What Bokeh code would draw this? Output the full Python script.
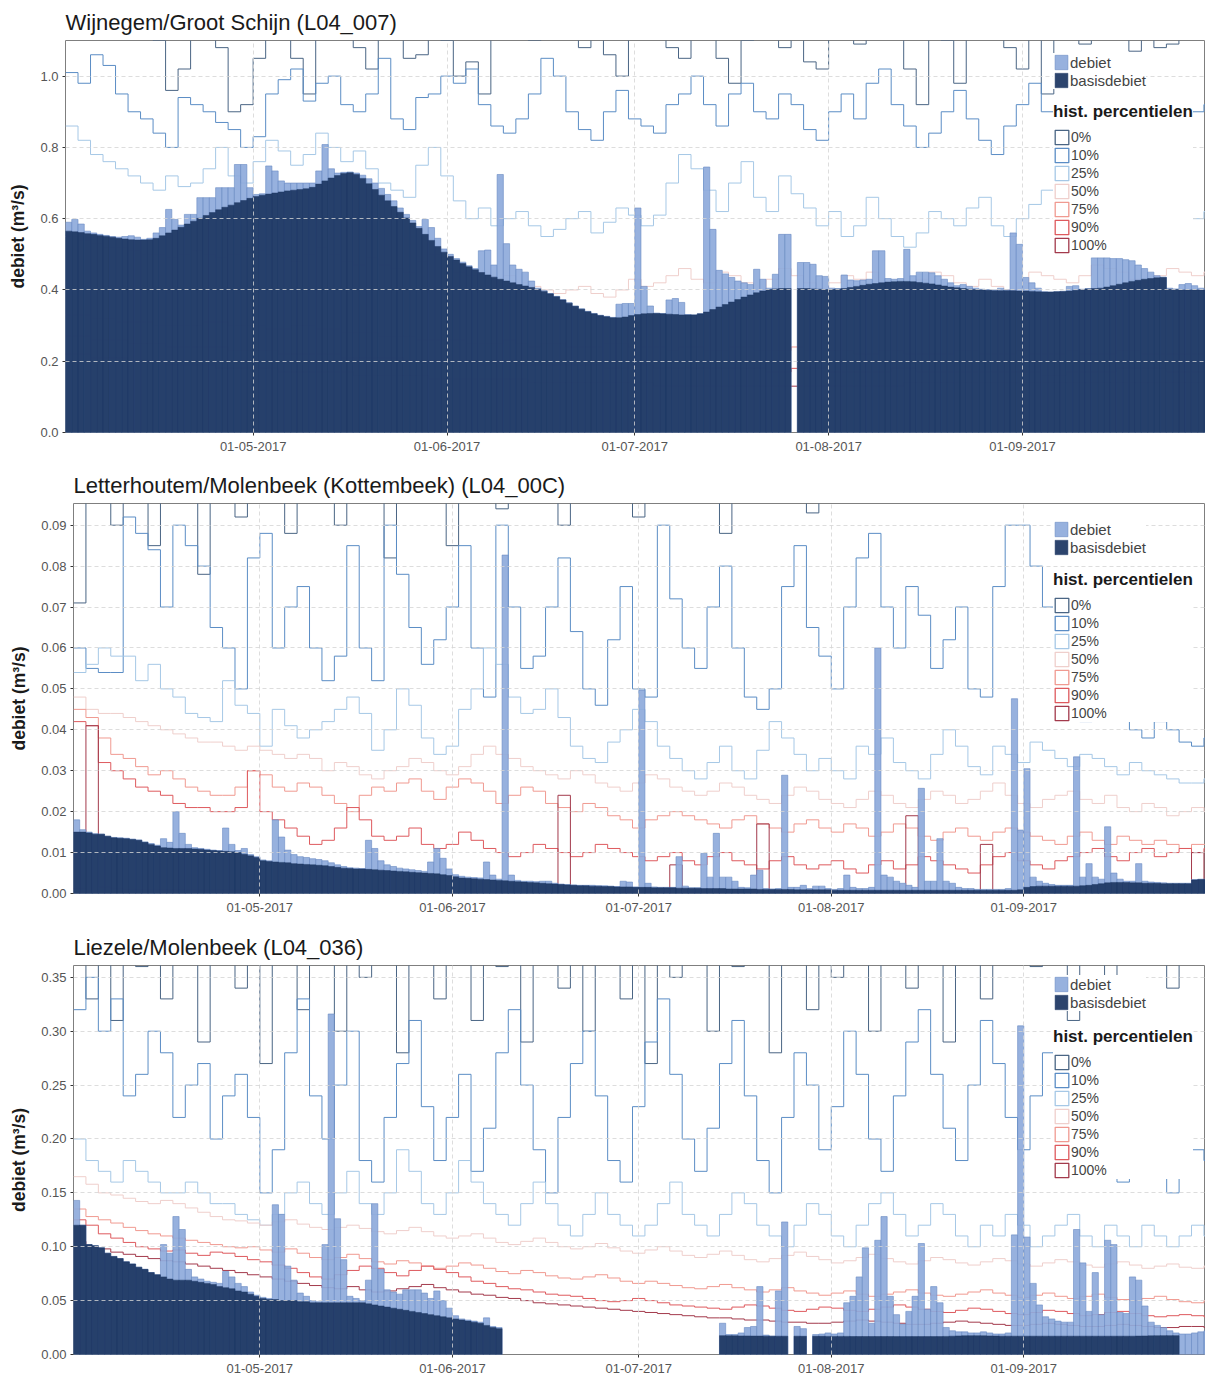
import numpy as np
import pandas as pd
from bokeh.plotting import figure
from bokeh.layouts import column
from bokeh.models import (ColumnDataSource, Range1d, FixedTicker, DatetimeTickFormatter,
                          PrintfTickFormatter, Legend, LegendItem)
from bokeh.embed import file_html
from bokeh.resources import INLINE

nan = float("nan")

# ---------------- general data ----------------
START = pd.Timestamp("2017-04-01")
END = pd.Timestamp("2017-09-30 06:00")
N_DAYS = 183            # daily bars, 01-04-2017 .. 30-09-2017
PCT_STEP_DAYS = 2       # percentile lines read every 2 days
month_ticks = ["2017-05-01", "2017-06-01", "2017-07-01", "2017-08-01", "2017-09-01"]
percentile_labels = ["0%", "10%", "25%", "50%", "75%", "90%", "100%"]
y_label = "debiet (m³/s)"

# ---------------- panel 1: Wijnegem/Groot Schijn ----------------
title_1 = "Wijnegem/Groot Schijn (L04_007)"
ymax_1 = 1.1
yticks_1 = [0.0, 0.2, 0.4, 0.6, 0.8, 1.0]

debiet_1 = [
    0.590, 0.598, 0.585, 0.565, 0.560, 0.556, 0.553, 0.550, 0.548, 0.550,
    0.552, 0.548, 0.542, 0.545, 0.560, 0.575, 0.626, 0.598, 0.582, 0.612,
    0.612, 0.659, 0.659, 0.659, 0.687, 0.687, 0.687, 0.752, 0.752, 0.687,
    0.668, 0.670, 0.748, 0.734, 0.706, 0.700, 0.700, 0.700, 0.700, 0.700,
    0.734, 0.808, 0.740, 0.728, 0.730, 0.731, 0.728, 0.722, 0.712, 0.700,
    0.685, 0.668, 0.650, 0.630, 0.612, 0.595, 0.578, 0.598, 0.575, 0.545,
    0.515, 0.500, 0.488, 0.478, 0.468, 0.460, 0.510, 0.512, 0.470, 0.724,
    0.530, 0.470, 0.458, 0.450, 0.425, 0.405, 0.398, 0.390, 0.382, 0.373,
    0.364, 0.355, 0.347, 0.340, 0.334, 0.329, 0.326, 0.323, 0.360, 0.362,
    0.362, 0.630, 0.410, 0.355, 0.335, 0.334, 0.372, 0.376, 0.365, 0.331,
    0.330, 0.333, 0.745, 0.570, 0.455, 0.445, 0.435, 0.425, 0.420, 0.415,
    0.458, 0.430, 0.405, 0.444, 0.556, 0.556, nan, 0.477, 0.477, 0.472,
    0.440, 0.438, 0.405, 0.404, 0.442, 0.428, 0.426, 0.428, 0.430, 0.510,
    0.510, 0.432, 0.430, 0.432, 0.514, 0.440, 0.450, 0.450, 0.448, 0.440,
    0.430, 0.420, 0.412, 0.415, 0.410, 0.405, 0.402, 0.401, 0.400, 0.405,
    0.400, 0.560, 0.528, 0.435, 0.420, 0.405, 0.395, 0.394, 0.395, 0.396,
    0.410, 0.412, 0.402, 0.404, 0.490, 0.490, 0.490, 0.488, 0.488, 0.485,
    0.482, 0.470, 0.460, 0.450, 0.440, 0.436, 0.405, 0.403, 0.415, 0.418,
    0.412, 0.405, 0.402]

basisdebiet_1 = [
    0.565, 0.563, 0.561, 0.558, 0.556, 0.553, 0.551, 0.548, 0.545, 0.543,
    0.541, 0.540, 0.540, 0.541, 0.545, 0.552, 0.560, 0.568, 0.576, 0.585,
    0.593, 0.601, 0.609, 0.617, 0.625, 0.632, 0.638, 0.645, 0.651, 0.657,
    0.662, 0.666, 0.669, 0.672, 0.675, 0.678, 0.680, 0.682, 0.684, 0.688,
    0.697, 0.706, 0.714, 0.721, 0.727, 0.729, 0.724, 0.713, 0.698, 0.682,
    0.666, 0.650, 0.634, 0.618, 0.602, 0.588, 0.573, 0.556, 0.539, 0.522,
    0.506, 0.494, 0.484, 0.474, 0.465, 0.457, 0.449, 0.442, 0.436, 0.430,
    0.425, 0.420, 0.415, 0.411, 0.407, 0.402, 0.396, 0.389, 0.381, 0.372,
    0.363, 0.354, 0.346, 0.339, 0.333, 0.328, 0.325, 0.322, 0.322, 0.324,
    0.328, 0.331, 0.333, 0.334, 0.334, 0.333, 0.332, 0.331, 0.330, 0.330,
    0.330, 0.333, 0.338, 0.345, 0.352, 0.359, 0.366, 0.373, 0.380, 0.386,
    0.392, 0.397, 0.401, 0.403, 0.404, 0.404, nan, 0.404, 0.404, 0.403,
    0.402, 0.401, 0.401, 0.402, 0.404, 0.407, 0.410, 0.413, 0.416, 0.418,
    0.420, 0.422, 0.423, 0.424, 0.424, 0.423, 0.421, 0.419, 0.417, 0.414,
    0.411, 0.408, 0.406, 0.404, 0.402, 0.401, 0.400, 0.399, 0.398, 0.398,
    0.398, 0.398, 0.397, 0.397, 0.396, 0.395, 0.394, 0.394, 0.395, 0.396,
    0.397, 0.399, 0.401, 0.403, 0.404, 0.405, 0.408, 0.412, 0.416, 0.420,
    0.424, 0.427, 0.430, 0.432, 0.434, 0.435, 0.402, 0.401, 0.400, 0.400,
    0.400, 0.400, 0.400]

p000_1 = [1.25, 1.20, 1.30, 1.15, 1.30, 1.35, 1.20, 1.10, 0.96, 1.02,
          1.25, 1.30, 1.08, 0.90, 0.92, 1.05, 1.30, 1.20, 1.05, 0.95,
          1.12, 1.30, 1.25, 1.08, 1.02, 1.30, 1.15, 1.05, 1.06, 1.40,
          1.10, 1.00, 1.04, 0.95, 1.30, 1.20, 1.25, 1.10, 1.30, 1.25,
          1.35, 1.08, 1.30, 1.06, 1.00, 1.30, 1.20, 1.30, 1.08, 1.05,
          1.25, 1.30, 1.05, 0.98, 1.10, 1.30, 1.15, 1.08, 1.30, 1.04,
          1.02, 1.30, 1.20, 1.09, 1.30, 1.25, 1.30, 1.02, 0.92, 1.30,
          1.10, 0.98, 1.30, 1.20, 1.30, 1.08, 1.02, 1.30, 0.95, 1.12,
          1.30, 1.09, 1.30, 1.15, 1.30, 1.07, 1.30, 1.08, 1.09, 1.30,
          1.20, 1.30]
p010_1 = [1.01, 0.98, 1.06, 1.03, 0.95, 0.90, 0.88, 0.84, 0.80, 0.94,
          0.92, 0.90, 0.87, 0.85, 0.80, 0.83, 0.95, 0.99, 1.02, 0.93,
          0.98, 1.00, 0.92, 0.90, 0.95, 1.05, 0.88, 0.85, 0.94, 0.95,
          1.00, 0.98, 1.02, 0.92, 0.86, 0.84, 0.88, 0.95, 1.05, 1.00,
          0.90, 0.85, 0.82, 0.90, 0.96, 0.88, 0.86, 0.84, 0.92, 0.95,
          1.00, 0.92, 0.86, 0.95, 0.98, 0.90, 0.88, 0.95, 0.92, 0.85,
          0.82, 0.90, 0.95, 0.88, 0.98, 1.02, 0.92, 0.86, 0.80, 0.84,
          0.90, 0.96, 0.88, 0.82, 0.78, 0.86, 0.92, 0.98, 0.90, 0.85,
          0.80, 0.75, 0.82, 0.88, 0.92, 0.84, 0.80, 0.78, 0.85, 0.88,
          0.90, 0.92]
p025_1 = [0.86, 0.82, 0.78, 0.76, 0.74, 0.72, 0.70, 0.68, 0.72, 0.69,
          0.70, 0.74, 0.80, 0.72, 0.70, 0.76, 0.82, 0.79, 0.75, 0.78,
          0.84, 0.80, 0.76, 0.79, 0.74, 0.70, 0.68, 0.66, 0.75, 0.80,
          0.72, 0.65, 0.60, 0.63, 0.58, 0.60, 0.62, 0.58, 0.55, 0.57,
          0.60, 0.62, 0.56, 0.59, 0.63, 0.61, 0.58, 0.61, 0.70, 0.78,
          0.74, 0.68, 0.62, 0.70, 0.76, 0.66, 0.62, 0.72, 0.67, 0.63,
          0.58, 0.62, 0.55, 0.58, 0.66, 0.60, 0.55, 0.52, 0.56, 0.62,
          0.60, 0.58, 0.63, 0.66, 0.58, 0.55, 0.60, 0.64, 0.68, 0.62,
          0.57, 0.60, 0.56, 0.52, 0.55, 0.58, 0.62, 0.60, 0.55, 0.57,
          0.60, 0.62]
p050_1 = [0.55, 0.54, 0.53, 0.52, 0.52, 0.51, 0.50, 0.50, 0.49, 0.50,
          0.51, 0.50, 0.49, 0.50, 0.52, 0.51, 0.50, 0.49, 0.48, 0.50,
          0.52, 0.50, 0.48, 0.47, 0.49, 0.47, 0.46, 0.45, 0.48, 0.50,
          0.46, 0.45, 0.44, 0.45, 0.43, 0.44, 0.42, 0.41, 0.40, 0.39,
          0.40, 0.41, 0.39, 0.38, 0.40, 0.43, 0.41, 0.42, 0.44, 0.46,
          0.43, 0.42, 0.45, 0.44, 0.42, 0.40, 0.43, 0.46, 0.44, 0.42,
          0.40, 0.42, 0.44, 0.43, 0.45, 0.42, 0.40, 0.41, 0.43, 0.45,
          0.44, 0.42, 0.41, 0.43, 0.41, 0.40, 0.42, 0.45, 0.44, 0.43,
          0.42, 0.44, 0.47, 0.46, 0.45, 0.43, 0.42, 0.44, 0.46, 0.45,
          0.44, 0.45]
p075_1 = [0.33, 0.33, 0.32, 0.32, 0.31, 0.31, 0.31, 0.30, 0.30, 0.30,
          0.30, 0.31, 0.31, 0.30, 0.30, 0.30, 0.29, 0.29, 0.30, 0.30,
          0.29, 0.29, 0.28, 0.28, 0.28, 0.27, 0.27, 0.27, 0.26, 0.26,
          0.26, 0.26, 0.25, 0.25, 0.25, 0.26, 0.25, 0.24, 0.25, 0.25,
          0.24, 0.24, 0.24, 0.25, 0.25, 0.24, 0.24, 0.24, 0.23, 0.24,
          0.24, 0.23, 0.23, 0.24, 0.24, 0.23, 0.23, 0.23, 0.24, 0.23,
          0.23, 0.23, 0.23, 0.22, 0.22, 0.23, 0.23, 0.22, 0.22, 0.22,
          0.22, 0.23, 0.23, 0.22, 0.22, 0.22, 0.23, 0.22, 0.22, 0.22,
          0.23, 0.22, 0.22, 0.22, 0.23, 0.23, 0.22, 0.22, 0.22, 0.22,
          0.22, 0.22]
p090_1 = [0.27, 0.27, 0.26, 0.26, 0.26, 0.25, 0.25, 0.25, 0.24, 0.24,
          0.24, 0.24, 0.24, 0.23, 0.23, 0.23, 0.23, 0.22, 0.22, 0.22,
          0.22, 0.22, 0.21, 0.21, 0.21, 0.21, 0.21, 0.20, 0.20, 0.20,
          0.20, 0.20, 0.20, 0.19, 0.20, 0.20, 0.19, 0.19, 0.19, 0.19,
          0.19, 0.19, 0.19, 0.18, 0.18, 0.19, 0.19, 0.18, 0.18, 0.18,
          0.18, 0.18, 0.18, 0.18, 0.18, 0.18, 0.17, 0.17, 0.18, 0.18,
          0.18, 0.17, 0.17, 0.17, 0.17, 0.17, 0.18, 0.18, 0.17, 0.17,
          0.17, 0.17, 0.17, 0.17, 0.17, 0.17, 0.17, 0.17, 0.16, 0.16,
          0.17, 0.17, 0.17, 0.17, 0.18, 0.18, 0.18, 0.18, 0.17, 0.17,
          0.17, 0.17]
p100_1 = [0.22, 0.22, 0.21, 0.21, 0.21, 0.20, 0.20, 0.20, 0.19, 0.19,
          0.19, 0.19, 0.18, 0.18, 0.18, 0.18, 0.18, 0.17, 0.17, 0.17,
          0.17, 0.17, 0.17, 0.16, 0.16, 0.16, 0.16, 0.16, 0.16, 0.15,
          0.15, 0.15, 0.15, 0.15, 0.15, 0.15, 0.15, 0.14, 0.14, 0.14,
          0.14, 0.14, 0.14, 0.14, 0.14, 0.14, 0.14, 0.13, 0.13, 0.13,
          0.13, 0.13, 0.13, 0.13, 0.13, 0.13, 0.13, 0.13, 0.13, 0.13,
          0.13, 0.13, 0.13, 0.13, 0.13, 0.13, 0.13, 0.14, 0.14, 0.14,
          0.14, 0.14, 0.14, 0.14, 0.14, 0.14, 0.14, 0.14, 0.14, 0.14,
          0.14, 0.14, 0.14, 0.14, 0.14, 0.14, 0.14, 0.14, 0.14, 0.14,
          0.14, 0.14]

# ---------------- panel 2: Letterhoutem/Molenbeek ----------------
title_2 = "Letterhoutem/Molenbeek (Kottembeek) (L04_00C)"
ymax_2 = 0.0953
yticks_2 = [0.00, 0.01, 0.02, 0.03, 0.04, 0.05, 0.06, 0.07, 0.08, 0.09]

debiet_2 = [
    0.0180, 0.0156, 0.0150, 0.0146, 0.0145, 0.0140, 0.0137, 0.0136, 0.0135, 0.0133,
    0.0131, 0.0126, 0.0122, 0.0118, 0.0134, 0.0125, 0.0200, 0.0147, 0.0120, 0.0112,
    0.0110, 0.0108, 0.0106, 0.0105, 0.0160, 0.0120, 0.0105, 0.0110, 0.0095, 0.0090,
    0.0082, 0.0080, 0.0180, 0.0138, 0.0106, 0.0095, 0.0090, 0.0088, 0.0085, 0.0083,
    0.0080, 0.0075, 0.0070, 0.0066, 0.0063, 0.0062, 0.0061, 0.0130, 0.0110, 0.0080,
    0.0070, 0.0066, 0.0062, 0.0060, 0.0058, 0.0056, 0.0054, 0.0077, 0.0110, 0.0086,
    0.0060, 0.0046, 0.0042, 0.0040, 0.0039, 0.0038, 0.0077, 0.0045, 0.0035, 0.0827,
    0.0045, 0.0032, 0.0030, 0.0030, 0.0029, 0.0030, 0.0030, 0.0025, 0.0023, 0.0022,
    0.0021, 0.0020, 0.0020, 0.0020, 0.0019, 0.0019, 0.0018, 0.0017, 0.0030, 0.0028,
    0.0016, 0.0497, 0.0025, 0.0016, 0.0015, 0.0015, 0.0015, 0.0090, 0.0018, 0.0014,
    0.0014, 0.0098, 0.0040, 0.0147, 0.0040, 0.0040, 0.0030, 0.0015, 0.0014, 0.0045,
    0.0057, 0.0012, 0.0011, 0.0012, 0.0289, 0.0015, 0.0015, 0.0020, 0.0012, 0.0018,
    0.0018, 0.0012, 0.0010, 0.0012, 0.0045, 0.0015, 0.0012, 0.0012, 0.0015, 0.0600,
    0.0045, 0.0040, 0.0030, 0.0025, 0.0020, 0.0015, 0.0257, 0.0030, 0.0030, 0.0134,
    0.0030, 0.0025, 0.0015, 0.0012, 0.0012, 0.0010, 0.0010, 0.0010, 0.0010, 0.0010,
    0.0012, 0.0476, 0.0155, 0.0305, 0.0040, 0.0030, 0.0025, 0.0022, 0.0020, 0.0020,
    0.0020, 0.0334, 0.0040, 0.0073, 0.0040, 0.0035, 0.0163, 0.0050, 0.0035, 0.0030,
    0.0030, 0.0073, 0.0030, 0.0028, 0.0027, 0.0026, 0.0025, 0.0025, 0.0025, 0.0025,
    0.0034, 0.0035, 0.0035]

basisdebiet_2 = [
    0.0150, 0.0150, 0.0148, 0.0145, 0.0145, 0.0140, 0.0136, 0.0135, 0.0134, 0.0132,
    0.0130, 0.0125, 0.0120, 0.0116, 0.0112, 0.0111, 0.0110, 0.0110, 0.0110, 0.0109,
    0.0108, 0.0106, 0.0105, 0.0104, 0.0103, 0.0102, 0.0100, 0.0096, 0.0092, 0.0088,
    0.0080, 0.0078, 0.0077, 0.0076, 0.0075, 0.0073, 0.0072, 0.0071, 0.0070, 0.0069,
    0.0068, 0.0066, 0.0064, 0.0062, 0.0061, 0.0060, 0.0060, 0.0059, 0.0058, 0.0057,
    0.0056, 0.0055, 0.0054, 0.0053, 0.0052, 0.0051, 0.0050, 0.0049, 0.0048, 0.0046,
    0.0044, 0.0041, 0.0038, 0.0037, 0.0036, 0.0035, 0.0034, 0.0033, 0.0032, 0.0031,
    0.0030, 0.0029, 0.0028, 0.0027, 0.0026, 0.0025, 0.0024, 0.0023, 0.0022, 0.0021,
    0.0020, 0.0019, 0.0019, 0.0018, 0.0018, 0.0017, 0.0017, 0.0016, 0.0016, 0.0016,
    0.0015, 0.0015, 0.0015, 0.0014, 0.0014, 0.0014, 0.0014, 0.0013, 0.0013, 0.0013,
    0.0013, 0.0012, 0.0012, 0.0012, 0.0012, 0.0011, 0.0011, 0.0011, 0.0011, 0.0011,
    0.0010, 0.0010, 0.0010, 0.0010, 0.0010, 0.0010, 0.0009, 0.0009, 0.0009, 0.0009,
    0.0009, 0.0009, 0.0008, 0.0008, 0.0008, 0.0008, 0.0008, 0.0008, 0.0008, 0.0008,
    0.0008, 0.0008, 0.0008, 0.0008, 0.0008, 0.0008, 0.0008, 0.0008, 0.0008, 0.0008,
    0.0008, 0.0008, 0.0008, 0.0008, 0.0008, 0.0008, 0.0008, 0.0008, 0.0008, 0.0008,
    0.0008, 0.0008, 0.0009, 0.0015, 0.0017, 0.0018, 0.0018, 0.0018, 0.0018, 0.0018,
    0.0018, 0.0018, 0.0019, 0.0020, 0.0022, 0.0024, 0.0026, 0.0027, 0.0027, 0.0027,
    0.0026, 0.0026, 0.0025, 0.0025, 0.0025, 0.0024, 0.0024, 0.0024, 0.0024, 0.0024,
    0.0033, 0.0034, 0.0034]

p000_2 = [0.071, 0.12, 0.12, 0.090, 0.12, 0.12, 0.085, 0.12, 0.12, 0.12,
          0.078, 0.12, 0.12, 0.092, 0.12, 0.12, 0.12, 0.088, 0.12, 0.12,
          0.12, 0.090, 0.12, 0.12, 0.12, 0.082, 0.12, 0.12, 0.12, 0.12,
          0.085, 0.12, 0.12, 0.12, 0.094, 0.12, 0.12, 0.12, 0.12, 0.090,
          0.12, 0.12, 0.12, 0.12, 0.12, 0.092, 0.12, 0.12, 0.12, 0.12,
          0.12, 0.12, 0.088, 0.12, 0.12, 0.12, 0.12, 0.12, 0.12, 0.093,
          0.12, 0.12, 0.12, 0.12, 0.12, 0.12, 0.12, 0.12, 0.12, 0.12,
          0.12, 0.12, 0.12, 0.12, 0.12, 0.12, 0.12, 0.12, 0.12, 0.12,
          0.12, 0.12, 0.12, 0.12, 0.12, 0.12, 0.12, 0.12, 0.12, 0.12,
          0.12, 0.12]
p010_2 = [0.060, 0.055, 0.054, 0.054, 0.092, 0.088, 0.084, 0.070, 0.090, 0.085,
          0.080, 0.065, 0.060, 0.050, 0.082, 0.088, 0.060, 0.070, 0.075, 0.060,
          0.052, 0.058, 0.085, 0.060, 0.052, 0.090, 0.078, 0.065, 0.056, 0.062,
          0.070, 0.085, 0.060, 0.048, 0.090, 0.070, 0.055, 0.058, 0.070, 0.082,
          0.064, 0.050, 0.046, 0.062, 0.075, 0.050, 0.048, 0.090, 0.072, 0.060,
          0.055, 0.070, 0.080, 0.060, 0.048, 0.045, 0.050, 0.075, 0.085, 0.065,
          0.058, 0.050, 0.070, 0.082, 0.088, 0.070, 0.060, 0.075, 0.068, 0.055,
          0.062, 0.070, 0.050, 0.048, 0.075, 0.090, 0.090, 0.080, 0.070, 0.060,
          0.050, 0.042, 0.046, 0.055, 0.044, 0.040, 0.038, 0.042, 0.040, 0.037,
          0.036, 0.038]
p025_2 = [0.054, 0.056, 0.060, 0.058, 0.058, 0.052, 0.056, 0.050, 0.048, 0.044,
          0.043, 0.042, 0.052, 0.046, 0.044, 0.036, 0.045, 0.041, 0.038, 0.040,
          0.042, 0.045, 0.048, 0.044, 0.035, 0.040, 0.050, 0.046, 0.038, 0.034,
          0.036, 0.045, 0.050, 0.060, 0.056, 0.048, 0.044, 0.045, 0.050, 0.043,
          0.036, 0.033, 0.032, 0.037, 0.040, 0.045, 0.042, 0.036, 0.033, 0.030,
          0.028, 0.032, 0.036, 0.030, 0.028, 0.035, 0.042, 0.038, 0.034, 0.030,
          0.033, 0.030, 0.028, 0.036, 0.034, 0.038, 0.032, 0.030, 0.028, 0.034,
          0.040, 0.036, 0.031, 0.029, 0.036, 0.034, 0.032, 0.037, 0.035, 0.033,
          0.031, 0.034, 0.033, 0.031, 0.029, 0.032, 0.030, 0.029, 0.028, 0.027,
          0.027, 0.028]
p050_2 = [0.048, 0.045, 0.044, 0.044, 0.043, 0.042, 0.041, 0.040, 0.039, 0.038,
          0.037, 0.037, 0.036, 0.035, 0.036, 0.035, 0.034, 0.033, 0.034, 0.033,
          0.030, 0.032, 0.031, 0.029, 0.028, 0.030, 0.031, 0.033, 0.032, 0.030,
          0.029, 0.031, 0.034, 0.036, 0.034, 0.033, 0.031, 0.030, 0.029, 0.028,
          0.030, 0.029, 0.027, 0.026, 0.025, 0.027, 0.029, 0.028, 0.026, 0.025,
          0.024, 0.025, 0.027, 0.026, 0.024, 0.023, 0.022, 0.024, 0.026, 0.025,
          0.023, 0.022, 0.021, 0.023, 0.025, 0.024, 0.022, 0.021, 0.023, 0.025,
          0.024, 0.022, 0.023, 0.025, 0.027, 0.024, 0.022, 0.021, 0.023, 0.024,
          0.025, 0.023, 0.022, 0.024, 0.021, 0.020, 0.022, 0.021, 0.019, 0.020,
          0.021, 0.020]
p075_2 = [0.045, 0.043, 0.038, 0.034, 0.033, 0.031, 0.029, 0.030, 0.028, 0.026,
          0.025, 0.024, 0.024, 0.026, 0.030, 0.029, 0.026, 0.025, 0.027, 0.026,
          0.024, 0.022, 0.020, 0.024, 0.026, 0.025, 0.027, 0.028, 0.025, 0.023,
          0.026, 0.028, 0.027, 0.025, 0.022, 0.024, 0.026, 0.025, 0.022, 0.021,
          0.020, 0.022, 0.021, 0.019, 0.018, 0.016, 0.018, 0.019, 0.020, 0.019,
          0.018, 0.017, 0.016, 0.018, 0.019, 0.017, 0.016, 0.015, 0.017, 0.018,
          0.016, 0.015, 0.017, 0.016, 0.014, 0.015, 0.017, 0.016, 0.014, 0.013,
          0.015, 0.016, 0.014, 0.013, 0.015, 0.016, 0.015, 0.014, 0.013, 0.012,
          0.014, 0.015, 0.013, 0.012, 0.014, 0.013, 0.012, 0.013, 0.012, 0.011,
          0.012, 0.012]
p090_2 = [0.042, 0.041, 0.032, 0.030, 0.028, 0.026, 0.025, 0.024, 0.022, 0.021,
          0.021, 0.020, 0.020, 0.021, 0.030, 0.020, 0.018, 0.016, 0.014, 0.012,
          0.013, 0.016, 0.021, 0.018, 0.014, 0.013, 0.014, 0.016, 0.012, 0.011,
          0.012, 0.015, 0.013, 0.011, 0.010, 0.009, 0.010, 0.012, 0.011, 0.010,
          0.009, 0.010, 0.012, 0.011, 0.010, 0.009, 0.008, 0.009, 0.010, 0.008,
          0.007, 0.009, 0.010, 0.008, 0.007, 0.006, 0.008, 0.009, 0.007, 0.006,
          0.007, 0.008, 0.006, 0.005, 0.007, 0.008, 0.006, 0.007, 0.009, 0.008,
          0.007, 0.006, 0.005, 0.007, 0.009, 0.010, 0.008, 0.007, 0.006, 0.008,
          0.009, 0.010, 0.011, 0.009, 0.008, 0.010, 0.011, 0.009, 0.010, 0.011,
          0.010, 0.011]
p100_2 = [0.0012, 0.0410, 0.0015, 0.0012, 0.0010, 0.0010, 0.0010, 0.0009, 0.0009, 0.0009,
          0.0008, 0.0008, 0.0008, 0.0008, 0.0007, 0.0007, 0.0007, 0.0007, 0.0007, 0.0007,
          0.0006, 0.0006, 0.0006, 0.0006, 0.0006, 0.0006, 0.0006, 0.0006, 0.0006, 0.0006,
          0.0005, 0.0005, 0.0005, 0.0005, 0.0005, 0.0005, 0.0005, 0.0005, 0.0005, 0.0240,
          0.0005, 0.0005, 0.0004, 0.0004, 0.0004, 0.0004, 0.0004, 0.0004, 0.0070, 0.0004,
          0.0004, 0.0004, 0.0004, 0.0004, 0.0004, 0.0170, 0.0004, 0.0004, 0.0004, 0.0004,
          0.0004, 0.0004, 0.0004, 0.0004, 0.0004, 0.0004, 0.0004, 0.0190, 0.0004, 0.0004,
          0.0004, 0.0004, 0.0004, 0.0120, 0.0004, 0.0004, 0.0004, 0.0005, 0.0005, 0.0005,
          0.0005, 0.0005, 0.0005, 0.0005, 0.0005, 0.0005, 0.0005, 0.0005, 0.0005, 0.0005,
          0.0100, 0.0005]

# ---------------- panel 3: Liezele/Molenbeek ----------------
title_3 = "Liezele/Molenbeek (L04_036)"
ymax_3 = 0.361
yticks_3 = [0.00, 0.05, 0.10, 0.15, 0.20, 0.25, 0.30, 0.35]

debiet_3 = [
    0.143, 0.120, 0.102, 0.101, 0.099, 0.094, 0.091, 0.089, 0.086, 0.084,
    0.081, 0.079, 0.076, 0.074, 0.102, 0.094, 0.128, 0.116, 0.079, 0.072,
    0.070, 0.068, 0.067, 0.066, 0.077, 0.072, 0.066, 0.063, 0.058, 0.055,
    0.053, 0.052, 0.139, 0.130, 0.082, 0.069, 0.057, 0.054, 0.050, 0.049,
    0.102, 0.316, 0.126, 0.088, 0.054, 0.052, 0.050, 0.069, 0.140, 0.079,
    0.060, 0.058, 0.056, 0.060, 0.060, 0.060, 0.057, 0.052, 0.059, 0.050,
    0.043, 0.036, 0.033, 0.032, 0.031, 0.030, 0.034, 0.026, 0.025, nan,
    nan, nan, nan, nan, nan, nan, nan, nan, nan, nan,
    nan, nan, nan, nan, nan, nan, nan, nan, nan, nan,
    nan, nan, nan, nan, nan, nan, nan, nan, nan, nan,
    nan, nan, nan, nan, 0.029, 0.0185, 0.0185, 0.020, 0.025, 0.026,
    0.063, 0.018, 0.017, 0.059, 0.123, nan, 0.026, 0.024, nan, 0.0185,
    0.019, 0.020, 0.019, 0.020, 0.048, 0.054, 0.072, 0.099, 0.029, 0.106,
    0.128, 0.054, 0.037, 0.028, 0.040, 0.054, 0.103, 0.042, 0.063, 0.048,
    0.025, 0.022, 0.021, 0.021, 0.020, 0.020, 0.021, 0.020, 0.019, 0.019,
    0.020, 0.111, 0.305, 0.109, 0.066, 0.046, 0.035, 0.033, 0.031, 0.030,
    0.030, 0.116, 0.085, 0.040, 0.076, 0.037, 0.106, 0.102, 0.039, 0.038,
    0.072, 0.069, 0.045, 0.030, 0.027, 0.025, 0.022, 0.020, 0.019, 0.019,
    0.020, 0.021, 0.022]

basisdebiet_3 = [
    0.120, 0.120, 0.102, 0.101, 0.099, 0.094, 0.091, 0.089, 0.086, 0.084,
    0.081, 0.079, 0.076, 0.074, 0.072, 0.070, 0.069, 0.069, 0.069, 0.068,
    0.067, 0.066, 0.065, 0.063, 0.062, 0.061, 0.059, 0.058, 0.056, 0.054,
    0.052, 0.051, 0.051, 0.050, 0.050, 0.050, 0.049, 0.049, 0.048, 0.048,
    0.048, 0.048, 0.048, 0.048, 0.048, 0.048, 0.048, 0.047, 0.046, 0.045,
    0.044, 0.043, 0.042, 0.041, 0.040, 0.039, 0.038, 0.037, 0.036, 0.035,
    0.034, 0.033, 0.032, 0.031, 0.030, 0.029, 0.027, 0.025, 0.024, nan,
    nan, nan, nan, nan, nan, nan, nan, nan, nan, nan,
    nan, nan, nan, nan, nan, nan, nan, nan, nan, nan,
    nan, nan, nan, nan, nan, nan, nan, nan, nan, nan,
    nan, nan, nan, nan, 0.0175, 0.0174, 0.0173, 0.0172, 0.0172, 0.0171,
    0.0171, 0.0170, 0.0170, 0.0170, 0.0170, nan, 0.0170, 0.0169, nan, 0.0169,
    0.0169, 0.0168, 0.0168, 0.0168, 0.0168, 0.0167, 0.0167, 0.0167, 0.0167, 0.0167,
    0.0167, 0.0167, 0.0166, 0.0166, 0.0166, 0.0166, 0.0166, 0.0166, 0.0166, 0.0166,
    0.0168, 0.0170, 0.0172, 0.0173, 0.0174, 0.0174, 0.0173, 0.0172, 0.0171, 0.0170,
    0.0170, 0.0170, 0.0170, 0.0170, 0.0170, 0.0170, 0.0170, 0.0170, 0.0170, 0.0170,
    0.0170, 0.0170, 0.0170, 0.0170, 0.0170, 0.0170, 0.0170, 0.0170, 0.0170, 0.0170,
    0.0170, 0.0171, 0.0172, 0.0173, 0.0174, 0.0175, 0.0175, 0.0175, nan, nan,
    nan, nan, nan]

p000_3 = [0.40, 0.33, 0.40, 0.31, 0.40, 0.36, 0.40, 0.33, 0.40, 0.40,
          0.29, 0.40, 0.40, 0.34, 0.40, 0.27, 0.40, 0.40, 0.32, 0.40,
          0.40, 0.30, 0.40, 0.35, 0.40, 0.40, 0.28, 0.40, 0.40, 0.33,
          0.40, 0.40, 0.31, 0.40, 0.36, 0.40, 0.29, 0.40, 0.40, 0.34,
          0.40, 0.30, 0.40, 0.40, 0.33, 0.40, 0.27, 0.40, 0.35, 0.40,
          0.40, 0.30, 0.40, 0.36, 0.40, 0.40, 0.28, 0.40, 0.40, 0.32,
          0.40, 0.35, 0.40, 0.40, 0.30, 0.40, 0.40, 0.34, 0.40, 0.40,
          0.29, 0.40, 0.40, 0.33, 0.40, 0.40, 0.40, 0.36, 0.40, 0.40,
          0.31, 0.40, 0.40, 0.35, 0.40, 0.40, 0.40, 0.40, 0.34, 0.40,
          0.40, 0.40]
p010_3 = [0.32, 0.35, 0.30, 0.33, 0.24, 0.26, 0.30, 0.28, 0.22, 0.25,
          0.27, 0.20, 0.24, 0.26, 0.22, 0.15, 0.19, 0.28, 0.33, 0.24,
          0.20, 0.25, 0.30, 0.18, 0.16, 0.22, 0.27, 0.31, 0.23, 0.18,
          0.22, 0.26, 0.17, 0.21, 0.28, 0.32, 0.25, 0.19, 0.15, 0.22,
          0.27, 0.30, 0.24, 0.18, 0.16, 0.23, 0.29, 0.33, 0.26, 0.20,
          0.17, 0.21, 0.27, 0.31, 0.24, 0.18, 0.15, 0.22, 0.28, 0.25,
          0.19, 0.23, 0.30, 0.26, 0.20, 0.17, 0.24, 0.29, 0.32, 0.26,
          0.21, 0.18, 0.25, 0.31, 0.27, 0.22, 0.19, 0.24, 0.28, 0.20,
          0.17, 0.22, 0.26, 0.19, 0.16, 0.21, 0.24, 0.18, 0.15, 0.17,
          0.19, 0.18]
p025_3 = [0.20, 0.18, 0.17, 0.16, 0.18, 0.17, 0.16, 0.15, 0.15, 0.16,
          0.15, 0.14, 0.14, 0.13, 0.125, 0.12, 0.13, 0.15, 0.16, 0.14,
          0.13, 0.15, 0.17, 0.14, 0.13, 0.15, 0.19, 0.17, 0.14, 0.13,
          0.15, 0.18, 0.16, 0.14, 0.13, 0.12, 0.14, 0.16, 0.14, 0.12,
          0.11, 0.13, 0.15, 0.13, 0.12, 0.11, 0.12, 0.14, 0.16, 0.13,
          0.12, 0.11, 0.13, 0.15, 0.14, 0.12, 0.11, 0.10, 0.12, 0.14,
          0.13, 0.11, 0.10, 0.12, 0.14, 0.15, 0.13, 0.11, 0.12, 0.14,
          0.13, 0.11, 0.10, 0.12, 0.11, 0.13, 0.12, 0.10, 0.11, 0.12,
          0.13, 0.11, 0.10, 0.12, 0.11, 0.10, 0.12, 0.11, 0.10, 0.11,
          0.12, 0.11]
p050_3 = [0.165, 0.158, 0.150, 0.148, 0.145, 0.142, 0.140, 0.143, 0.140, 0.136,
          0.132, 0.128, 0.125, 0.124, 0.122, 0.120, 0.123, 0.125, 0.121, 0.118,
          0.116, 0.118, 0.120, 0.117, 0.114, 0.112, 0.115, 0.118, 0.114, 0.110,
          0.108, 0.110, 0.112, 0.108, 0.104, 0.102, 0.105, 0.108, 0.104, 0.100,
          0.098, 0.100, 0.103, 0.099, 0.096, 0.094, 0.097, 0.100, 0.096, 0.092,
          0.090, 0.093, 0.096, 0.092, 0.088, 0.086, 0.089, 0.092, 0.095, 0.091,
          0.088, 0.085, 0.087, 0.090, 0.093, 0.089, 0.086, 0.084, 0.087, 0.090,
          0.088, 0.085, 0.083, 0.086, 0.089, 0.087, 0.084, 0.082, 0.085, 0.088,
          0.086, 0.083, 0.081, 0.084, 0.086, 0.083, 0.080, 0.082, 0.084, 0.081,
          0.080, 0.082]
p075_3 = [0.135, 0.128, 0.125, 0.122, 0.118, 0.115, 0.112, 0.110, 0.108, 0.106,
          0.104, 0.102, 0.100, 0.099, 0.100, 0.097, 0.095, 0.098, 0.094, 0.090,
          0.088, 0.090, 0.093, 0.089, 0.086, 0.084, 0.087, 0.085, 0.082, 0.080,
          0.082, 0.085, 0.083, 0.080, 0.077, 0.075, 0.078, 0.076, 0.073, 0.071,
          0.070, 0.072, 0.074, 0.071, 0.068, 0.066, 0.068, 0.066, 0.064, 0.062,
          0.061, 0.063, 0.065, 0.062, 0.060, 0.058, 0.060, 0.062, 0.059, 0.057,
          0.055, 0.057, 0.059, 0.056, 0.054, 0.056, 0.058, 0.060, 0.057, 0.055,
          0.054, 0.056, 0.058, 0.060, 0.057, 0.055, 0.053, 0.055, 0.057, 0.054,
          0.052, 0.054, 0.056, 0.053, 0.051, 0.050, 0.052, 0.054, 0.051, 0.049,
          0.048, 0.050]
p090_3 = [0.125, 0.120, 0.112, 0.108, 0.104, 0.100, 0.098, 0.096, 0.097, 0.094,
          0.092, 0.095, 0.094, 0.091, 0.088, 0.086, 0.083, 0.080, 0.076, 0.072,
          0.070, 0.074, 0.078, 0.082, 0.080, 0.076, 0.073, 0.078, 0.082, 0.079,
          0.076, 0.072, 0.068, 0.066, 0.063, 0.061, 0.060, 0.058, 0.056, 0.055,
          0.054, 0.052, 0.050, 0.049, 0.050, 0.052, 0.050, 0.048, 0.046, 0.045,
          0.044, 0.043, 0.042, 0.044, 0.046, 0.045, 0.043, 0.041, 0.040, 0.042,
          0.044, 0.043, 0.041, 0.040, 0.042, 0.044, 0.046, 0.044, 0.042, 0.040,
          0.039, 0.041, 0.043, 0.042, 0.040, 0.038, 0.037, 0.039, 0.041, 0.040,
          0.038, 0.036, 0.037, 0.039, 0.040, 0.038, 0.036, 0.035, 0.036, 0.037,
          0.036, 0.035]
p100_3 = [0.105, 0.100, 0.098, 0.095, 0.093, 0.091, 0.089, 0.087, 0.086, 0.084,
          0.082, 0.080, 0.078, 0.076, 0.074, 0.072, 0.070, 0.068, 0.066, 0.064,
          0.062, 0.061, 0.063, 0.060, 0.058, 0.059, 0.061, 0.063, 0.065, 0.062,
          0.060, 0.058, 0.056, 0.055, 0.053, 0.052, 0.050, 0.048, 0.047, 0.046,
          0.045, 0.044, 0.043, 0.042, 0.041, 0.040, 0.039, 0.038, 0.037, 0.036,
          0.035, 0.034, 0.034, 0.033, 0.032, 0.032, 0.031, 0.030, 0.030, 0.029,
          0.029, 0.030, 0.031, 0.032, 0.031, 0.030, 0.029, 0.028, 0.028, 0.029,
          0.030, 0.031, 0.030, 0.029, 0.028, 0.027, 0.027, 0.028, 0.029, 0.028,
          0.027, 0.026, 0.026, 0.027, 0.028, 0.027, 0.026, 0.025, 0.025, 0.026,
          0.026, 0.025]

# ---------------- styling ----------------
PCT_COLORS = ["#4a6584", "#5b8dc5", "#a6c8e6", "#efcfcc", "#f09a91", "#de5a5e", "#a33a4c"]
DEB_FILL, DEB_LINE = "#8eaadb", "#6889c2"
BAS_FILL, BAS_LINE = "#1f3864", "#1f3864"
FONT = "Liberation Sans"
MONTH_MS = [pd.Timestamp(m).value // 10**6 for m in month_ticks]
FIG_WIDTH = 1205


def check(name, vals, n):
    if len(vals) != n:
        raise ValueError(f"{name}: {len(vals)} values, expected {n}")


def step_xy(vals):
    v = np.asarray(vals, dtype=float)
    edges = pd.date_range(START, periods=len(v) + 1, freq=f"{PCT_STEP_DAYS}D")
    xs = np.column_stack([edges[:-1].values, edges[1:].values]).ravel()
    ys = np.repeat(v, 2)
    return xs, ys


def bar_source(vals):
    v = np.asarray(vals, dtype=float)
    d = pd.date_range(START, periods=N_DAYS, freq="D")
    m = np.isfinite(v)
    left = d[m].values
    right = (d[m] + pd.Timedelta(days=1)).values
    return ColumnDataSource(dict(left=left, right=right, top=v[m]))


def build_panel(name, title, deb, bas, pcts, ymax, yticks, yfmt, height,
                b_left, b_top, b_bottom, leg_x, leg1_y, leg2_y):
    check(name + " debiet", deb, N_DAYS)
    check(name + " basisdebiet", bas, N_DAYS)
    for lab, vals in zip(percentile_labels, pcts):
        check(name + " " + lab, vals, 92)

    p = figure(width=FIG_WIDTH, height=height, x_axis_type="datetime",
               x_range=Range1d(START, END), y_range=Range1d(0, ymax),
               output_backend="svg", toolbar_location=None,
               min_border_left=b_left, min_border_right=0,
               min_border_top=b_top, min_border_bottom=b_bottom,
               background_fill_color="white", border_fill_color="white")

    for vals, col in zip(pcts, PCT_COLORS):
        xs, ys = step_xy(vals)
        p.line(xs, ys, line_color=col, line_width=1)

    r_deb = p.quad(left="left", right="right", bottom=0, top="top", source=bar_source(deb),
                   fill_color=DEB_FILL, fill_alpha=0.92, line_color=DEB_LINE, line_width=0.6)
    r_bas = p.quad(left="left", right="right", bottom=0, top="top", source=bar_source(bas),
                   fill_color=BAS_FILL, fill_alpha=0.94, line_color=BAS_LINE, line_width=0.5)

    # title
    p.title.text = title
    p.title.text_font = FONT
    p.title.text_font_size = "22px"
    p.title.text_font_style = "normal"
    p.title.text_color = "#1a1a1a"
    p.title.align = "left"
    p.title.standoff = 12

    # axes
    p.xaxis.ticker = FixedTicker(ticks=MONTH_MS)
    p.xaxis.formatter = DatetimeTickFormatter(days="%d-%m-%Y", months="%d-%m-%Y",
                                              years="%d-%m-%Y")
    p.yaxis.ticker = FixedTicker(ticks=yticks)
    p.yaxis.formatter = PrintfTickFormatter(format=yfmt)
    for ax in (p.xaxis[0], p.yaxis[0]):
        ax.axis_line_color = None
        ax.major_tick_line_color = "#333333"
        ax.major_tick_out = 3
        ax.major_tick_in = 0
        ax.minor_tick_line_color = None
        ax.major_label_text_font = FONT
        ax.major_label_text_font_size = "13px"
        ax.major_label_text_color = "#555555"
    p.xaxis.major_label_standoff = 6
    p.yaxis.major_label_standoff = 4
    p.yaxis.axis_label = y_label
    p.yaxis.axis_label_text_font = FONT
    p.yaxis.axis_label_text_font_size = "17.5px"
    p.yaxis.axis_label_text_font_style = "bold"
    p.yaxis.axis_label_text_color = "#1a1a1a"
    p.yaxis.axis_label_standoff = 9

    # grid on top of the bars, dashed
    p.xgrid.ticker = FixedTicker(ticks=MONTH_MS)
    p.ygrid.ticker = FixedTicker(ticks=yticks)
    p.grid.grid_line_color = "#d4d4d4"
    p.grid.grid_line_alpha = 0.8
    p.grid.grid_line_dash = "4 3"
    p.grid.grid_line_width = 1
    p.grid.level = "guide"

    p.outline_line_color = "#7f7f7f"
    p.outline_line_width = 1

    # legends
    leg1 = Legend(items=[LegendItem(label="debiet", renderers=[r_deb]),
                         LegendItem(label="basisdebiet", renderers=[r_bas])],
                  location=(leg_x, leg1_y), orientation="vertical",
                  glyph_width=16, glyph_height=18, label_height=18, spacing=0,
                  padding=2, margin=0, label_standoff=1,
                  label_text_font=FONT, label_text_font_size="15px",
                  label_text_color="#444444", background_fill_color="white",
                  background_fill_alpha=1.0, border_line_color=None)
    p.add_layout(leg1)

    # legend keys for the percentile lines (white boxes with coloured outline, no visible mark)
    boxes = [p.quad(left=[START], right=[START], top=[nan], bottom=[nan], fill_color="white",
                    line_color=c, line_width=1.3) for c in PCT_COLORS]
    leg2 = Legend(items=[LegendItem(label=lab, renderers=[r])
                         for lab, r in zip(percentile_labels, boxes)],
                  location=(leg_x, leg2_y), orientation="vertical",
                  title="hist. percentielen", title_text_font=FONT,
                  title_text_font_size="17px", title_text_font_style="bold",
                  title_text_color="#1a1a1a", title_standoff=6,
                  glyph_width=17, glyph_height=18, label_height=17, spacing=0,
                  padding=2, margin=0, label_standoff=1,
                  label_text_font=FONT, label_text_font_size="14px",
                  label_text_color="#444444", background_fill_color="white",
                  background_fill_alpha=1.0, border_line_color=None)
    p.add_layout(leg2)
    return p


pcts_1 = [p000_1, p010_1, p025_1, p050_1, p075_1, p090_1, p100_1]
pcts_2 = [p000_2, p010_2, p025_2, p050_2, p075_2, p090_2, p100_2]
pcts_3 = [p000_3, p010_3, p025_3, p050_3, p075_3, p090_3, p100_3]

# frame tops at 40 / 503 / 965 px, frames 392 / 390 / 390 px high
f1 = build_panel("panel1", title_1, debiet_1, basisdebiet_1, pcts_1, ymax_1, yticks_1, "%.1f",
                 463, 65, 40, 31, 988, 343, 178)
f2 = build_panel("panel2", title_2, debiet_2, basisdebiet_2, pcts_2, ymax_2, yticks_2, "%.2f",
                 462, 73, 40, 32, 980, 337, 171)
f3 = build_panel("panel3", title_3, debiet_3, basisdebiet_3, pcts_3, ymax_3, yticks_3, "%.2f",
                 450, 73, 40, 20, 980, 343, 175)

layout = column(column(f1), column(f2), column(f3), spacing=0)
open("out.html", "w").write(file_html(layout, INLINE))
